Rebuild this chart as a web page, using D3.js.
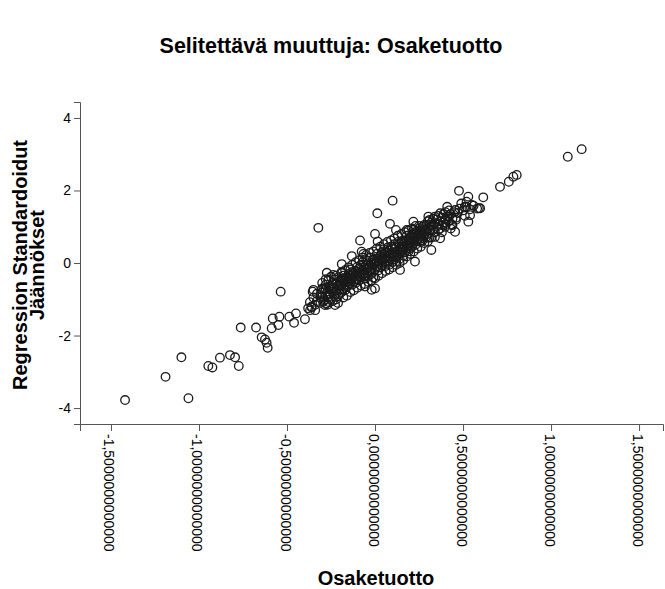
<!DOCTYPE html>
<html>
<head>
<meta charset="utf-8">
<script src="https://cdn.jsdelivr.net/npm/d3@7"></script>
<style>
    body { margin: 0; background: #fff; }
    text { font-family: Arial, "Liberation Sans", sans-serif; fill: #000; }
</style>
</head>
<body>
<div id="plot"></div>
<script>
// tick values
var xTickValues = [-1.5, -1.0, -0.5, 0, 0.5, 1.0, 1.5];
var yTickValues = [-4, -2, 0, 2, 4];

// scattered points away from the main band [osaketuotto, residual]
var outerPoints = [
    [-1.42,-3.78],[-1.19,-3.14],[-1.06,-3.73],[-1.10,-2.60],[-0.947,-2.84],[-0.924,-2.88],
    [-0.881,-2.61],[-0.824,-2.54],[-0.795,-2.60],[-0.774,-2.84],[-0.763,-1.78],[-0.676,-1.78],
    [-0.644,-2.05],[-0.625,-2.11],[-0.616,-2.20],[-0.610,-2.34],[-0.587,-1.80],[-0.581,-1.53],
    [-0.549,-1.71],[-0.543,-1.48],[-0.536,-0.79],[-0.487,-1.48],[-0.460,-1.65],[-0.449,-1.39],
    [-0.398,-1.55],[-0.369,-1.30],[-0.360,-1.23],[-0.354,-0.79],[-0.303,-0.73],[-0.294,-1.07],
    [-0.274,-0.27],[-0.265,-0.47],[-0.237,-0.33],[-0.284,-1.16],[-0.227,-1.16],[-0.189,-0.03],
    [-0.132,0.19],[-0.189,-0.28],[-0.066,0.25],[-0.322,0.97],[0.013,1.37],[0.0,0.80],
    [-0.085,0.62],[0.015,0.59],[0.10,1.72],[0.085,1.08],[0.119,0.91],[-0.076,0.31],
    [-0.25,-0.38],[-0.35,-0.74],[-0.30,-0.70],[0.142,-0.19],[0.0,-0.70],[-0.057,-0.65],
    [0.477,1.99],[0.53,1.83],[0.615,1.81],[0.59,1.51],[0.71,2.10],[0.76,2.24],
    [0.786,2.38],[0.805,2.43],[0.41,1.55],[0.455,1.46],[0.51,1.55],[0.54,1.32],
    [0.49,1.64],[0.55,1.60],[0.37,1.37],[0.34,1.28],[0.31,1.19],[0.218,1.14],
    [0.53,1.14],[0.46,1.19],[0.455,0.86],[0.37,0.68],[0.32,0.36],[0.18,0.91],
    [0.256,0.96],[0.40,1.05],[0.436,1.05],[0.42,1.28],[0.52,1.69],[1.095,2.93],
    [1.174,3.14],[-0.278,-1.11],[-0.30,-0.93],[-0.019,-0.74],[0.227,0.04],[0.597,1.51],
    [0.303,1.28]
];

// the dense band around the middle
var bandPoints = [
    [-0.33,-1.05],[-0.34,-1.15],[-0.35,-0.95],[-0.36,-1.20],[-0.38,-1.25],[-0.33,-0.85],[-0.34,-1.30],[-0.37,-1.08],
    [-0.31,-0.95],[-0.30,-0.82],[-0.29,-1.02],[-0.29,-0.70],[-0.28,-0.88],[-0.31,-1.10],[-0.28,-0.60],
    [-0.27,-0.78],[-0.27,-0.95],[-0.26,-0.66],[-0.26,-0.85],[-0.25,-0.72],[-0.25,-1.00],[-0.24,-0.55],[-0.24,-0.80],[-0.25,-0.62],[-0.26,-1.08],
    [-0.23,-0.70],[-0.23,-0.88],[-0.22,-0.58],[-0.22,-0.76],[-0.21,-0.64],[-0.21,-0.92],[-0.20,-0.50],[-0.20,-0.70],[-0.23,-0.45],[-0.22,-1.00],[-0.21,-0.40],
    [-0.19,-0.62],[-0.19,-0.45],[-0.18,-0.55],[-0.18,-0.72],[-0.17,-0.48],[-0.17,-0.60],[-0.16,-0.38],[-0.16,-0.52],[-0.19,-0.80],[-0.18,-0.35],[-0.17,-0.75],[-0.16,-0.65],
    [-0.15,-0.45],[-0.15,-0.30],[-0.14,-0.50],[-0.14,-0.36],[-0.13,-0.42],[-0.13,-0.25],[-0.12,-0.38],[-0.12,-0.52],[-0.15,-0.60],[-0.14,-0.18],[-0.13,-0.60],[-0.12,-0.28],
    [-0.11,-0.32],[-0.11,-0.45],[-0.10,-0.25],[-0.10,-0.38],[-0.09,-0.30],[-0.09,-0.15],[-0.08,-0.22],[-0.08,-0.40],[-0.11,-0.55],[-0.10,-0.10],[-0.09,-0.48],[-0.08,-0.05],
    [-0.07,-0.20],[-0.07,-0.32],[-0.06,-0.12],[-0.06,-0.28],[-0.05,-0.18],[-0.05,-0.05],[-0.04,-0.12],[-0.04,-0.26],[-0.07,0.02],[-0.06,-0.42],[-0.05,0.08],[-0.04,-0.38],
    [-0.03,-0.08],[-0.03,-0.20],[-0.02,0.00],[-0.02,-0.14],[-0.01,-0.05],[-0.01,0.10],[0.00,-0.02],[0.00,-0.18],[-0.03,0.15],[-0.02,-0.30],[-0.01,-0.40],[0.00,0.12],
    [0.01,0.05],[0.01,-0.08],[0.02,0.12],[0.02,-0.02],[0.03,0.08],[0.03,0.20],[0.04,0.02],[0.04,0.15],[0.01,0.25],[0.02,-0.20],[0.03,-0.12],[0.04,0.30],
    [0.05,0.10],[0.05,0.24],[0.06,0.05],[0.06,0.18],[0.07,0.12],[0.07,0.28],[0.08,0.20],[0.08,0.06],[0.05,0.38],[0.06,-0.08],[0.07,0.42],[0.08,-0.05],
    [0.09,0.25],[0.09,0.12],[0.10,0.30],[0.10,0.18],[0.11,0.22],[0.11,0.38],[0.12,0.30],[0.12,0.15],[0.09,0.45],[0.10,0.02],[0.11,0.52],[0.12,0.05],
    [0.13,0.35],[0.13,0.22],[0.14,0.40],[0.14,0.28],[0.15,0.45],[0.15,0.32],[0.16,0.38],[0.16,0.52],[0.13,0.58],[0.14,0.12],[0.15,0.60],[0.16,0.20],
    [0.17,0.45],[0.17,0.58],[0.18,0.50],[0.18,0.36],[0.19,0.62],[0.19,0.48],[0.20,0.55],[0.20,0.70],[0.17,0.30],[0.18,0.75],[0.19,0.32],[0.20,0.40],
    [0.21,0.62],[0.21,0.78],[0.22,0.58],[0.22,0.72],[0.23,0.68],[0.23,0.85],[0.24,0.75],[0.24,0.60],[0.21,0.45],[0.22,0.92],[0.23,0.50],
    [0.25,0.80],[0.25,0.68],[0.26,0.90],[0.26,0.75],[0.27,0.85],[0.27,1.00],[0.28,0.78],[0.28,0.92],[0.25,1.02],[0.26,0.58],[0.27,0.62],
    [0.29,0.88],[0.29,1.02],[0.30,0.95],[0.30,0.80],[0.31,1.05],[0.31,0.90],[0.32,1.00],[0.32,1.12],[0.29,0.72],[0.30,1.15],[0.31,0.70],
    [0.33,1.05],[0.33,0.92],[0.34,1.10],[0.35,1.00],[0.35,1.20],[0.36,1.08],[0.33,1.22],[0.34,0.85],[0.36,0.92],
    [0.37,1.15],[0.38,1.05],[0.38,1.25],[0.39,1.12],[0.40,1.20],[0.37,0.95],[0.39,1.35],[0.40,1.00],
    [0.41,1.28],[0.42,1.15],[0.43,1.35],[0.44,1.22],[0.45,1.40],[0.42,1.45],[0.44,1.05],
    [0.47,1.38],[0.48,1.50],[0.50,1.45],[0.52,1.55],[0.51,1.30],[0.54,1.48],[0.56,1.58],[0.58,1.50]
];

// wider edge of the band
var bandEdgePoints = [
    [-0.30,-0.55],[-0.28,-0.45],[-0.27,-1.15],[-0.24,-1.05],[-0.22,-0.35],[-0.21,-1.10],[-0.19,-0.25],[-0.18,-0.95],
    [-0.17,-0.20],[-0.16,-0.90],[-0.15,-0.12],[-0.14,-0.80],[-0.13,-0.05],[-0.12,-0.75],[-0.11,0.02],[-0.10,-0.68],
    [-0.09,0.08],[-0.08,-0.62],[-0.07,0.15],[-0.06,-0.58],[-0.05,0.22],[-0.04,-0.52],[-0.03,0.28],[-0.02,-0.48],
    [-0.01,0.32],[0.00,-0.42],[0.01,0.40],[0.02,-0.35],[0.03,0.45],[0.04,-0.28],[0.05,0.52],[0.06,-0.22],
    [0.07,0.58],[0.08,-0.18],[0.09,0.62],[0.10,-0.12],[0.11,0.68],[0.12,-0.05],[0.13,0.75],[0.14,0.00],
    [0.15,0.80],[0.16,0.08],[0.17,0.85],[0.18,0.18],[0.19,0.90],[0.20,0.25],[0.21,0.95],[0.22,0.32],
    [0.23,1.02],[0.24,0.40],[0.26,0.45],[0.28,0.55],[0.30,0.60],[0.32,0.70],[0.34,0.72],[0.36,1.30],
    [0.38,0.85],[0.40,1.40],[0.43,0.95],[0.46,1.25],
    [-0.20,-0.62],[-0.18,-0.45],[-0.15,-0.52],[-0.13,-0.34],[-0.10,-0.45],[-0.08,-0.30],[-0.06,-0.35],[-0.04,-0.05],
    [-0.02,-0.22],[0.00,0.05],[0.02,0.06],[0.04,-0.08],[0.06,0.30],[0.08,0.34],[0.10,0.40],[0.12,0.42],
    [0.14,0.52],[0.16,0.62],[0.18,0.60],[0.20,0.62],[0.22,0.80],[0.24,0.88],[0.26,0.62],[0.28,1.05],
    [0.30,0.70],[-0.26,-0.92],[-0.24,-0.68],[-0.22,-0.82],[-0.20,-0.85],[-0.28,-0.72]
];

var view = {
    w: 665,
    h: 589,
    left: 80,
    right: 663,
    top: 102,
    bottom: 424
};

var svg = d3.select("#plot")
            .append("svg")
            .attr("width", view.w)
            .attr("height", view.h);

var xScale = d3.scaleLinear()
            .domain([-1.676, 1.636])
            .range([view.left, view.right]),
    yScale = d3.scaleLinear()
            .domain([-4.44, 4.44])
            .range([view.bottom, view.top]);

var fiLocale = d3.formatLocale({decimal: ",", thousands: " ", grouping: [3], currency: ["", ""], minus: "-"});
var xFormat = fiLocale.format(".13f"),
    yFormat = fiLocale.format("d");

// title
svg.append("text")
    .attr("x", 331)
    .attr("y", 53)
    .attr("text-anchor", "middle")
    .style("font-size", "21.5px")
    .style("font-weight", "bold")
    .text("Selitettävä muuttuja: Osaketuotto");

// axes
var g_xaxis = svg.append("g")
            .attr("transform", "translate(0," + view.bottom + ")")
            .call(d3.axisBottom(xScale).tickValues(xTickValues).tickSize(7).tickFormat(xFormat));
g_xaxis.select(".domain").attr("stroke", "#555");
g_xaxis.selectAll(".tick line").attr("stroke", "#555");
g_xaxis.selectAll(".tick text")
    .attr("transform", "rotate(90)")
    .attr("x", 10)
    .attr("y", 0)
    .attr("dy", "0.5em")
    .attr("text-anchor", "start")
    .style("font-size", "14px")
    .style("font-family", "Arial, 'Liberation Sans', sans-serif")
    .attr("fill", "#000");

var g_yaxis = svg.append("g")
            .attr("transform", "translate(" + view.left + ",0)")
            .call(d3.axisLeft(yScale).tickValues(yTickValues).tickSize(6).tickPadding(3).tickFormat(yFormat));
g_yaxis.select(".domain").attr("stroke", "#555");
g_yaxis.selectAll(".tick line").attr("stroke", "#555");
g_yaxis.selectAll(".tick text")
    .style("font-size", "14px")
    .style("font-family", "Arial, 'Liberation Sans', sans-serif")
    .attr("fill", "#000");

// axis titles
svg.append("text")
    .attr("x", 376)
    .attr("y", 585)
    .attr("text-anchor", "middle")
    .style("font-size", "20px")
    .style("font-weight", "bold")
    .text("Osaketuotto");

var g_ytitle = svg.append("g")
            .attr("transform", "translate(0,265) rotate(-90)");
g_ytitle.append("text")
    .attr("x", 0)
    .attr("y", 27)
    .attr("text-anchor", "middle")
    .style("font-size", "20px")
    .style("font-weight", "bold")
    .text("Regression Standardoidut");
g_ytitle.append("text")
    .attr("x", 0)
    .attr("y", 44)
    .attr("text-anchor", "middle")
    .style("font-size", "20px")
    .style("font-weight", "bold")
    .text("Jäännökset");

// points
var allPoints = bandPoints.concat(bandEdgePoints, outerPoints);
svg.append("g")
    .selectAll("circle")
    .data(allPoints)
    .enter().append("circle")
    .attr("cx", function(d){ return xScale(d[0]); })
    .attr("cy", function(d){ return yScale(d[1]); })
    .attr("r", 4.3)
    .style("fill", "none")
    .style("stroke", "#1a1a1a")
    .style("stroke-width", 1.3);
</script>
</body>
</html>
